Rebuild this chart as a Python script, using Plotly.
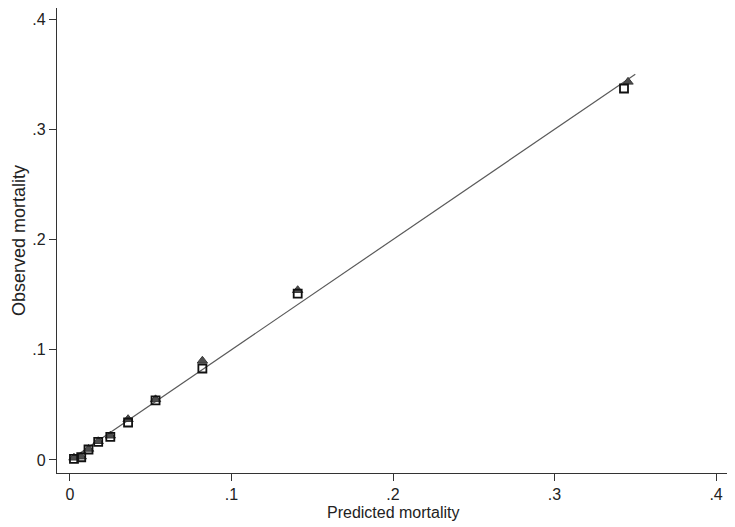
import plotly.graph_objects as go

pred_quadrado = [0.0025, 0.007, 0.0115, 0.0175, 0.025, 0.036, 0.053, 0.082, 0.141, 0.343]
obs_quadrado = [0.001, 0.0025, 0.0095, 0.0165, 0.021, 0.034, 0.054, 0.083, 0.151, 0.337]

pred_triangulo = [0.0025, 0.007, 0.0115, 0.0175, 0.025, 0.036, 0.053, 0.082, 0.141, 0.3455]
obs_triangulo = [0.002, 0.003, 0.010, 0.017, 0.022, 0.037, 0.055, 0.090, 0.154, 0.343]

linha_ref = [0.0025, 0.350]  # linha de identidade y = x

tick_vals = [0, 0.1, 0.2, 0.3, 0.4]
tick_text = ["0", ".1", ".2", ".3", ".4"]

fig = go.Figure()

# Linha de referência
fig.add_trace(go.Scatter(
    x=linha_ref, y=linha_ref, mode="lines",
    line=dict(color="#5a5a5a", width=1.2),
    showlegend=False, hoverinfo="skip",
))

# Triângulos cinza escuro
fig.add_trace(go.Scatter(
    x=pred_triangulo, y=obs_triangulo, mode="markers",
    marker=dict(symbol="triangle-up", size=9, color="#4d4d4d",
                line=dict(color="#3a3a3a", width=1)),
    showlegend=False,
))

# Quadrados vazados
fig.add_trace(go.Scatter(
    x=pred_quadrado, y=obs_quadrado, mode="markers",
    marker=dict(symbol="square-open", size=8, color="#111111",
                line=dict(width=1.8)),
    showlegend=False,
))

# Título do eixo X como anotação (fica bem colado nos rótulos)
fig.add_annotation(
    text="Predicted mortality", xref="paper", yref="paper",
    x=0.5, y=0, xanchor="center", yanchor="top", yshift=-29,
    showarrow=False,
    font=dict(family="Liberation Sans, Arial, sans-serif", size=16, color="#222222"),
)

# a página tem margem de 8px no body, por isso a figura é um pouco menor
fig.update_layout(
    width=727,
    height=519,
    margin=dict(l=49, r=6, t=0, b=54),
    plot_bgcolor="white",
    paper_bgcolor="white",
    font=dict(family="Liberation Sans, Arial, sans-serif", size=15, color="#222222"),
    xaxis=dict(
        range=[-0.0080, 0.408],
        tickvals=tick_vals, ticktext=tick_text,
        tickfont=dict(size=16),
        showgrid=False, zeroline=False, automargin=False,
        showline=True, linecolor="#333333", linewidth=1.2,
        ticks="outside", ticklen=7, tickcolor="#333333",
    ),
    yaxis=dict(
        range=[-0.0118, 0.41],
        tickvals=tick_vals, ticktext=tick_text,
        tickfont=dict(size=16),
        showgrid=False, zeroline=False, automargin=False,
        showline=True, linecolor="#333333", linewidth=1.2,
        ticks="outside", ticklen=7, tickcolor="#333333",
        tickangle=0,
        title=dict(text="Observed mortality", standoff=2),
    ),
)

fig.write_html("out.html")
